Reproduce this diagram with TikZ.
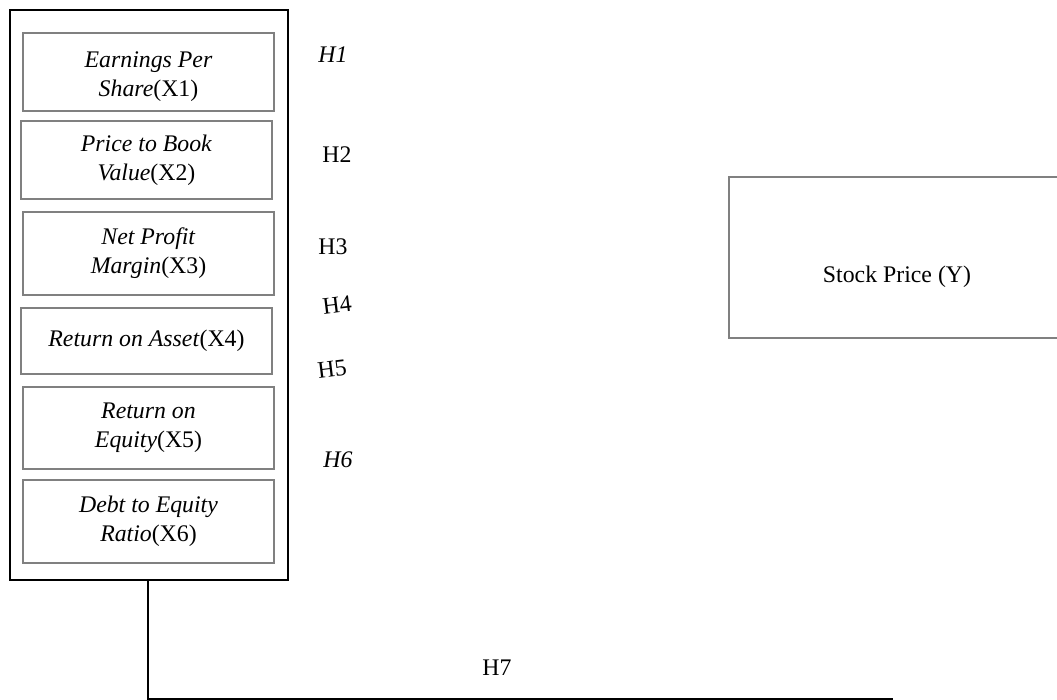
\documentclass[tikz,border=0pt]{standalone}
\usepackage{fontspec}
\setmainfont{Liberation Serif}
\begin{document}
\begin{tikzpicture}[x=1pt,y=-1pt,
  every node/.style={font=\fontsize{23.8}{29}\selectfont},
  varbox/.style={draw=black!50, line width=2pt, minimum width=251pt, inner sep=0pt, align=center},
  outerbox/.style={draw=black, line width=2pt, minimum width=278pt, minimum height=570pt, inner sep=0pt},
  hyp/.style={inner sep=0pt},
  link/.style={draw=black, line width=2pt}]
\useasboundingbox (0,0) rectangle (1057,700);
\node[outerbox] (outer) at (149,295) {};
\node[varbox, minimum height=78pt] (x1) at (148.5,72) {};
\node[inner sep=0pt, align=center] (x1text) at (148.5,77) {\textit{Earnings Per}\\\textit{Share}(X1)};
\node[varbox, minimum height=78pt] (x2) at (146.5,160) {\textit{Price to Book}\\\textit{Value}(X2)};
\node[varbox, minimum height=83pt] (x3) at (148.5,253.5) {\textit{Net Profit}\\\textit{Margin}(X3)};
\node[varbox, minimum height=66pt] (x4) at (146.5,341) {\raisebox{5pt}{\textit{Return on Asset}(X4)}};
\node[varbox, minimum height=82pt] (x5) at (148.5,428) {\textit{Return on}\\\textit{Equity}(X5)};
\node[varbox, minimum height=83pt] (x6) at (148.5,521.5) {\textit{Debt to Equity}\\\textit{Ratio}(X6)};
\node[draw=black!50, line width=2pt, minimum width=341pt, minimum height=161pt, inner sep=0pt] (y) at (899.5,257.5) {};
\node[inner sep=0pt] (ylabel) at (897,277) {Stock Price (Y)};
\node[hyp] (h1) at (333,55) {\textit{H1}};
\node[hyp] (h2) at (337,155) {H2};
\node[hyp] (h3) at (333,247) {H3};
\node[hyp, rotate=7] (h4) at (337,305) {H4};
\node[hyp, rotate=7] (h5) at (332,369) {H5};
\node[hyp] (h6) at (338,460) {\textit{H6}};
\node[hyp] (h7) at (497,668) {H7};
\coordinate (corner) at (148,699);
\coordinate (lineend) at (893,699);
\draw[link] (outer.south -| corner) -- (corner) -- (lineend);
\end{tikzpicture}
\end{document}
